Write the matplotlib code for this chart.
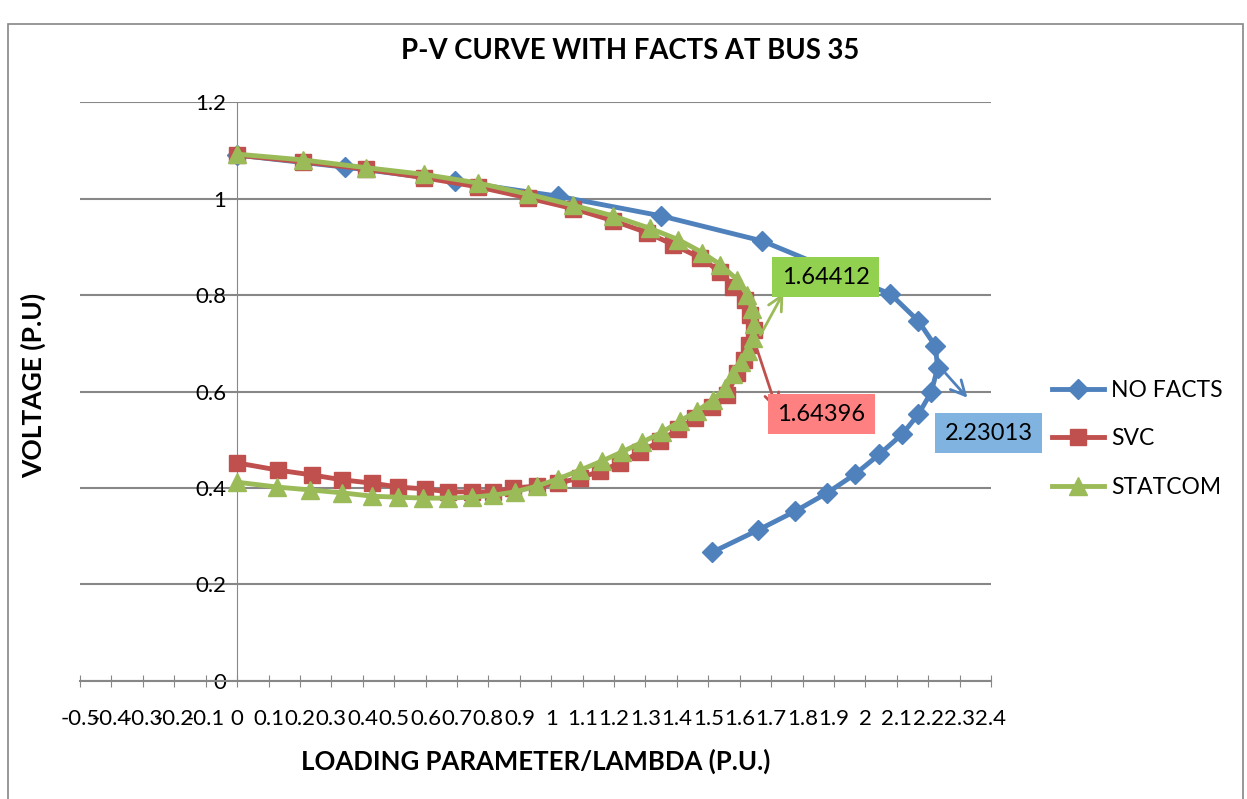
import matplotlib
matplotlib.use('agg')
import numpy as np
import matplotlib.pyplot as plt
from matplotlib.patches import Rectangle

plt.rcParams['font.family'] = ['Lato', 'DejaVu Sans']

# NO FACTS
nofacts_lam = [0.0, 0.344, 0.694, 1.02, 1.35, 1.672, 2.08, 2.169, 2.223, 2.230, 2.21,
               2.169, 2.118, 2.045, 1.968, 1.879, 1.777, 1.659, 1.513]
nofacts_v = [1.09, 1.065, 1.036, 1.005, 0.964, 0.912, 0.802, 0.746, 0.694, 0.649, 0.599,
             0.553, 0.512, 0.470, 0.429, 0.390, 0.352, 0.313, 0.267]

# SVC
svc_lam = [0.0, 0.21, 0.41, 0.596, 0.768, 0.927, 1.07, 1.197, 1.306, 1.389, 1.475, 1.538,
           1.58, 1.618, 1.634, 1.64396, 1.631, 1.615, 1.592,
           1.56, 1.513, 1.459, 1.404, 1.347, 1.283, 1.22, 1.156, 1.092, 1.022, 0.955,
           0.879, 0.815, 0.748, 0.672, 0.599, 0.513, 0.43, 0.334, 0.239, 0.131, 0.0]
svc_v = [1.09, 1.076, 1.061, 1.043, 1.024, 1.001, 0.979, 0.954, 0.929, 0.904, 0.877, 0.848,
         0.817, 0.79, 0.759, 0.728, 0.696, 0.665, 0.638,
         0.593, 0.568, 0.545, 0.522, 0.497, 0.475, 0.452, 0.435, 0.421, 0.41, 0.404,
         0.40, 0.392, 0.392, 0.392, 0.398, 0.402, 0.41, 0.417, 0.427, 0.437, 0.452]

# STATCOM
statcom_lam = [0.0, 0.21, 0.41, 0.596, 0.768, 0.927, 1.07, 1.197, 1.315, 1.404, 1.481, 1.538,
               1.592, 1.624, 1.64, 1.64412, 1.641, 1.627, 1.605, 1.58,
               1.554, 1.516, 1.465, 1.411, 1.354, 1.29, 1.226, 1.162, 1.092, 1.022, 0.955,
               0.885, 0.815, 0.748, 0.672, 0.592, 0.513, 0.43, 0.334, 0.232, 0.127, 0.0]
statcom_v = [1.092, 1.08, 1.064, 1.05, 1.032, 1.009, 0.986, 0.964, 0.938, 0.915, 0.888, 0.863,
             0.832, 0.8, 0.77, 0.739, 0.71, 0.685, 0.662, 0.637,
             0.607, 0.583, 0.56, 0.539, 0.516, 0.495, 0.475, 0.456, 0.437, 0.419, 0.404,
             0.392, 0.385, 0.381, 0.379, 0.379, 0.381, 0.383, 0.39, 0.396, 0.402, 0.412]

# nose point labels: text, arrow start, arrow end, box centre
nose_labels = ['1.64412', '1.64396', '2.23013']
label_from = [(1.666, 0.717), (1.656, 0.686), (2.255, 0.638)]
label_to = [(1.739, 0.804), (1.720, 0.560), (2.325, 0.587)]
label_at = [(1.873, 0.837), (1.86, 0.553), (2.392, 0.514)]

blue = '#4F81BD'
red = '#C0504D'
green = '#9BBB59'
box_colors = ['#92D050', '#FF8080', '#80B3E0']
arrow_colors = [green, red, blue]

fig = plt.figure(figsize=(12.47, 7.99), dpi=100)
ax = fig.add_axes([0.0642, 0.1477, 0.7305, 0.7246])

# chart border
fig.patches.append(Rectangle((0.0065, -0.01), 0.9905, 0.98, transform=fig.transFigure,
                             fill=False, edgecolor='#868686', linewidth=1.2))

ax.plot(nofacts_lam, nofacts_v, color=blue, lw=3.5, marker='D', ms=10, label='NO FACTS', zorder=3)
ax.plot(svc_lam, svc_v, color=red, lw=3.5, marker='s', ms=12, label='SVC', zorder=4)
ax.plot(statcom_lam, statcom_v, color=green, lw=3.5, marker='^', ms=13, label='STATCOM', zorder=5)

xt = np.round(np.arange(-0.5, 2.41, 0.1), 1)
ax.set_xlim(-0.5, 2.4)
ax.set_ylim(0, 1.2)
ax.set_xticks(xt)
ax.set_xticklabels(['0' if abs(t) < 1e-9 else '%g' % t for t in xt])
ax.set_yticks(np.round(np.arange(0, 1.21, 0.2), 1))
ax.set_yticklabels(['0', '0.2', '0.4', '0.6', '0.8', '1', '1.2'])

ax.grid(axis='y', color='#878787', lw=1.5)
ax.set_axisbelow(True)
for s in ['top', 'right']:
    ax.spines[s].set_visible(False)
ax.spines['left'].set_position(('data', 0))
ax.spines['left'].set_color('#878787')
ax.spines['bottom'].set_color('#878787')
ax.spines['bottom'].set_linewidth(1.5)
ax.tick_params(axis='y', length=0, labelsize=16, pad=8)
ax.tick_params(axis='x', direction='inout', length=8, color='#878787', labelsize=16, pad=16)

# title is centred on the whole chart, not on the plot area
fig.text(0.505, 0.936, 'P-V CURVE WITH FACTS AT BUS 35', fontsize=19.8, fontweight='bold',
         ha='center', va='center')
ax.set_xlabel('LOADING PARAMETER/LAMBDA (P.U.)', fontsize=18.5, fontweight='bold', labelpad=14)
fig.text(0.027, 0.518, 'VOLTAGE (P.U)', rotation=90, fontsize=19, fontweight='bold',
         ha='center', va='center')

for i in range(len(nose_labels)):
    ax.annotate('', xy=label_to[i], xytext=label_from[i],
                arrowprops=dict(arrowstyle='->', color=arrow_colors[i], lw=2,
                                mutation_scale=26, shrinkA=0, shrinkB=0),
                annotation_clip=False, zorder=6)
    ax.text(label_at[i][0], label_at[i][1], nose_labels[i], fontsize=17, ha='center',
            va='center', zorder=7, clip_on=False,
            bbox=dict(boxstyle='square,pad=0.4', fc=box_colors[i], ec='none'))

ax.legend(loc='center left', bbox_to_anchor=(1.044, 0.418), frameon=False, fontsize=16.5,
          handlelength=2.3, labelspacing=1.2, handletextpad=0.3)

plt.savefig('out.png', dpi=100)
